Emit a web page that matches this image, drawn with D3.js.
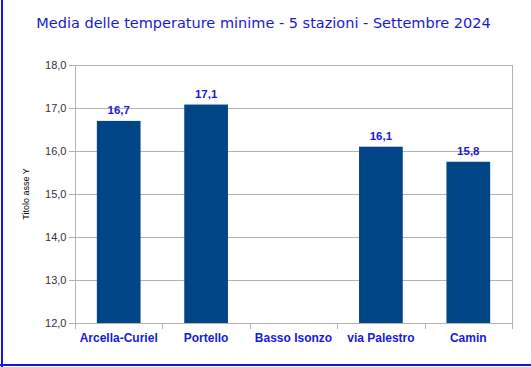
<!DOCTYPE html>
<html><head><meta charset="utf-8">
<script src="https://cdn.jsdelivr.net/npm/d3@7"></script>
<style>body{margin:0;background:#fff}svg{display:block}</style>
</head><body>
<svg id="c" width="531" height="367"></svg>
<script>
const title = "Media delle temperature minime - 5 stazioni - Settembre 2024";
const yAxisTitle = "Titolo asse Y";
const categories = ["Arcella-Curiel", "Portello", "Basso Isonzo", "via Palestro", "Camin"];
const values = [16.7, 17.08, null, 16.1, 15.75];
const yTicks = [12, 13, 14, 15, 16, 17, 18];

const svg = d3.select("#c");
const W = 531, H = 367;
const m = {left: 75, right: 19, top: 65, bottom: 44};
const x = d3.scaleBand().domain(categories).range([m.left, W - m.right]).paddingInner(0).paddingOuter(0);
const y = d3.scaleLinear().domain([12, 18]).range([H - m.bottom, m.top]);
const fmt = v => d3.format(".1f")(v).replace(".", ",");

// frame
svg.append("rect").attr("x", 1).attr("y", 0).attr("width", 2).attr("height", H).attr("fill", "#1414e6");
svg.append("rect").attr("x", 0).attr("y", 364).attr("width", W).attr("height", 2).attr("fill", "#1414e6");

// title
svg.append("text").attr("x", 263.5).attr("y", 28).attr("text-anchor", "middle")
  .attr("font-family", "DejaVu Sans, Verdana, sans-serif").attr("font-size", 14.5)
  .attr("fill", "#1a1acd").text(title);

// gridlines
svg.append("g").selectAll("line").data(yTicks).join("line")
  .attr("x1", m.left - 6).attr("x2", W - m.right)
  .attr("y1", d => Math.round(y(d)) + 0.5).attr("y2", d => Math.round(y(d)) + 0.5)
  .attr("stroke", "#b3b3b3").attr("stroke-width", 1);

// right border
svg.append("line").attr("x1", W - m.right + 0.5).attr("x2", W - m.right + 0.5)
  .attr("y1", y(18)).attr("y2", y(12) + 6).attr("stroke", "#b3b3b3");

// y axis
const ya = d3.axisLeft(y).tickValues(yTicks).tickFormat(fmt).tickSize(0).tickPadding(9);
const gy = svg.append("g").attr("transform", `translate(${m.left + 0.5},0)`).call(ya);
gy.select(".domain").attr("stroke", "#b3b3b3").attr("d", `M0,${y(18)}V${y(12) + 6}`);
gy.selectAll("text").attr("font-family", "Liberation Sans, Arial, sans-serif").attr("font-size", 11).attr("fill", "#333");

// bars
svg.append("g").selectAll("rect").data(categories.map((c, i) => ({c, v: values[i]})).filter(d => d.v != null))
  .join("rect")
  .attr("x", d => x(d.c) + x.bandwidth() * 0.25)
  .attr("width", x.bandwidth() * 0.5)
  .attr("y", d => y(d.v))
  .attr("height", d => y(12) - y(d.v))
  .attr("fill", "#004586");

// value labels
svg.append("g").selectAll("text").data(categories.map((c, i) => ({c, v: values[i]})).filter(d => d.v != null))
  .join("text")
  .attr("x", d => x(d.c) + x.bandwidth() / 2)
  .attr("y", d => y(d.v) - 7)
  .attr("text-anchor", "middle")
  .attr("font-family", "Liberation Sans, Arial, sans-serif").attr("font-weight", "bold").attr("font-size", 11.5)
  .attr("fill", "#1a1ad6").text(d => fmt(d.v));

// x axis
const xa = d3.axisBottom(x).tickSize(0).tickPadding(10);
const gx = svg.append("g").attr("transform", `translate(0,${Math.round(y(12)) + 0.5})`).call(xa);
gx.select(".domain").attr("stroke", "#b3b3b3").attr("d", `M${m.left},0H${W - m.right}`);
gx.selectAll("text").attr("font-family", "Liberation Sans, Arial, sans-serif").attr("font-weight", "bold")
  .attr("font-size", 12).attr("fill", "#1a1ad6");
// category separators
svg.append("g").selectAll("line").data(categories.map(c => x(c)).concat([W - m.right]))
  .join("line")
  .attr("x1", d => Math.round(d) + 0.5).attr("x2", d => Math.round(d) + 0.5)
  .attr("y1", y(12)).attr("y2", y(12) + 6).attr("stroke", "#b3b3b3");

// y axis title
svg.append("text").attr("transform", `translate(29,${(y(12) + y(18)) / 2}) rotate(-90)`)
  .attr("text-anchor", "middle").attr("font-family", "Liberation Sans, Arial, sans-serif")
  .attr("font-size", 9).attr("fill", "#000").text(yAxisTitle);
</script>
</body></html>
